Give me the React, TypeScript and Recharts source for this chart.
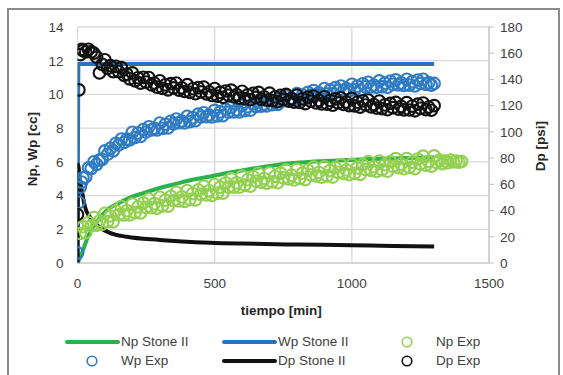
import React from "react";
import { ComposedChart, Line, Scatter, XAxis, YAxis, CartesianGrid, Label } from "recharts";

// model curves [tiempo, valor]
const npStoneII = [
  [0, 0], [10, 0.35], [21, 0.8], [33, 1.35], [45, 1.8], [57, 2.15], [70, 2.45], [90, 2.85],
  [118, 3.27], [150, 3.55], [180, 3.8], [240, 4.15], [300, 4.45], [360, 4.7], [423, 4.95],
  [483, 5.13], [550, 5.35], [620, 5.55], [700, 5.75], [763, 5.9], [850, 6.0], [950, 6.08],
  [1050, 6.15], [1150, 6.2], [1300, 6.27],
];
const wpStoneII = [[0, 0], [3, 11.8], [1300, 11.8]];
const dpStoneII = [
  [0, 0], [2, 75], [8, 64], [15, 56], [27, 43], [45, 35], [70, 29], [118, 23], [180, 20],
  [300, 17.6], [483, 15.5], [600, 14.8], [800, 14.1], [1000, 13.6], [1150, 13], [1300, 12.5],
];

// experimental points [tiempo, valor]
const npExp = [
  [0, 2.2], [10, 1.75], [20, 2.15], [30, 1.8], [40, 2.4], [50, 2.2], [60, 2.7], [70, 2.25],
  [80, 2.5], [90, 2.3], [100, 2.95], [110, 2.45], [120, 2.8], [130, 2.45], [140, 3.1], [150, 2.85],
  [160, 3.35], [170, 2.85], [180, 3.1], [190, 2.85], [200, 3.5], [210, 2.99], [220, 3.33],
  [230, 2.97], [240, 3.56], [250, 3.3], [260, 3.79], [270, 3.28], [280, 3.52], [290, 3.26],
  [300, 3.9], [310, 3.39], [320, 3.73], [330, 3.37], [340, 3.96], [350, 3.7], [360, 4.19],
  [370, 3.68], [380, 3.92], [390, 3.66], [400, 4.3], [410, 3.78], [420, 4.12], [430, 3.75],
  [440, 4.34], [450, 4.07], [460, 4.56], [470, 4.04], [480, 4.28], [490, 4.01], [500, 4.65],
  [510, 4.15], [520, 4.5], [530, 4.15], [540, 4.75], [550, 4.5], [560, 5.0], [570, 4.5],
  [580, 4.75], [590, 4.5], [600, 5.15], [610, 4.62], [620, 4.94], [630, 4.56], [640, 5.13],
  [650, 4.85], [660, 5.32], [670, 4.79], [680, 5.01], [690, 4.73], [700, 5.35], [710, 4.82],
  [720, 5.14], [730, 4.76], [740, 5.33], [750, 5.05], [760, 5.52], [770, 4.99], [780, 5.21],
  [790, 4.93], [800, 5.55], [810, 5.02], [820, 5.33], [830, 4.95], [840, 5.51], [850, 5.23],
  [860, 5.69], [870, 5.16], [880, 5.37], [890, 5.09], [900, 5.7], [910, 5.17], [920, 5.48],
  [930, 5.1], [940, 5.66], [950, 5.38], [960, 5.84], [970, 5.31], [980, 5.52], [990, 5.24],
  [1000, 5.85], [1010, 5.32], [1020, 5.64], [1030, 5.26], [1040, 5.83], [1050, 5.55],
  [1060, 6.02], [1070, 5.49], [1080, 5.71], [1090, 5.43], [1100, 6.05], [1110, 5.52],
  [1120, 5.83], [1130, 5.45], [1140, 6.01], [1150, 5.73], [1160, 6.19], [1170, 5.66],
  [1180, 5.87], [1190, 5.59], [1200, 6.2], [1210, 5.67], [1220, 5.98], [1230, 5.6], [1240, 6.16],
  [1250, 5.88], [1260, 6.34], [1270, 5.81], [1280, 6.02], [1290, 5.74], [1300, 6.35],
  [1310, 5.95], [1320, 6.1], [1330, 5.9], [1340, 6.05], [1350, 5.95], [1360, 6.1], [1370, 6.0],
  [1380, 6.05], [1390, 5.98], [1400, 6.02],
];
const wpExp = [
  [0, 0.6], [5, 3.6], [10, 4.5], [15, 4.8], [20, 5.05], [30, 5.1], [40, 5.65], [50, 5.6],
  [60, 6.0], [70, 5.85], [80, 6.1], [90, 6.15], [100, 6.65], [110, 6.45], [120, 6.8], [130, 6.65],
  [140, 7.1], [150, 7.0], [160, 7.35], [170, 7.15], [180, 7.35], [190, 7.3], [200, 7.75],
  [210, 7.45], [220, 7.71], [230, 7.51], [240, 7.92], [250, 7.77], [260, 8.08], [270, 7.89],
  [280, 7.99], [290, 7.89], [300, 8.3], [310, 7.99], [320, 8.23], [330, 8.02], [340, 8.41],
  [350, 8.25], [360, 8.54], [370, 8.32], [380, 8.42], [390, 8.31], [400, 8.7], [410, 8.39],
  [420, 8.62], [430, 8.44], [440, 8.83], [450, 8.66], [460, 8.91], [470, 8.68], [480, 8.78],
  [490, 8.67], [500, 9.05], [510, 8.73], [520, 8.96], [530, 8.74], [540, 9.12], [550, 8.95],
  [560, 9.23], [570, 8.96], [580, 9.09], [590, 8.97], [600, 9.35], [610, 9.04], [620, 9.27],
  [630, 9.06], [640, 9.44], [650, 9.28], [660, 9.56], [670, 9.3], [680, 9.43], [690, 9.32],
  [700, 9.7], [710, 9.39], [720, 9.62], [730, 9.41], [740, 9.79], [750, 9.63], [760, 9.91],
  [770, 9.65], [780, 9.78], [790, 9.67], [800, 10.05], [810, 9.73], [820, 9.96], [830, 9.74],
  [840, 10.12], [850, 9.95], [860, 10.23], [870, 9.96], [880, 10.09], [890, 9.97], [900, 10.35],
  [910, 10.03], [920, 10.25], [930, 10.03], [940, 10.4], [950, 10.23], [960, 10.5], [970, 10.23],
  [980, 10.35], [990, 10.23], [1000, 10.6], [1010, 10.27], [1020, 10.49], [1030, 10.26],
  [1040, 10.63], [1050, 10.45], [1060, 10.72], [1070, 10.44], [1080, 10.56], [1090, 10.43],
  [1100, 10.8], [1110, 10.46], [1120, 10.67], [1130, 10.43], [1140, 10.79], [1150, 10.6],
  [1160, 10.86], [1170, 10.57], [1180, 10.68], [1190, 10.54], [1200, 10.9], [1210, 10.55],
  [1220, 10.75], [1230, 10.5], [1240, 10.85], [1250, 10.65], [1260, 10.9], [1270, 10.6],
  [1280, 10.7], [1290, 10.55], [1300, 10.65],
];
const dpExp = [
  [0, 37], [5, 132], [10, 159], [15, 163], [20, 162], [30, 161], [40, 163], [50, 161], [60, 160],
  [70, 157], [80, 145], [90, 151.5], [100, 155], [110, 148.5], [120, 150.5], [130, 146],
  [140, 150], [150, 146], [160, 149], [170, 143], [180, 144], [190, 140.5], [200, 145],
  [210, 138.9], [220, 141.3], [230, 137.2], [240, 141.6], [250, 138], [260, 141.4], [270, 135.8],
  [280, 137.2], [290, 134.1], [300, 139], [310, 133.2], [320, 135.9], [330, 132.1], [340, 136.8],
  [350, 133.5], [360, 137.2], [370, 131.9], [380, 133.6], [390, 130.8], [400, 136], [410, 130.2],
  [420, 132.9], [430, 129.1], [440, 133.8], [450, 130.5], [460, 134.2], [470, 128.9],
  [480, 130.6], [490, 127.8], [500, 133], [510, 127.3], [520, 130.1], [530, 126.4], [540, 131.2],
  [550, 128], [560, 131.8], [570, 126.6], [580, 128.4], [590, 125.7], [600, 131], [610, 125.35],
  [620, 128.2], [630, 124.55], [640, 129.4], [650, 126.25], [660, 130.1], [670, 124.95],
  [680, 126.8], [690, 124.15], [700, 129.5], [710, 123.85], [720, 126.7], [730, 123.05],
  [740, 127.9], [750, 124.75], [760, 128.6], [770, 123.45], [780, 125.3], [790, 122.65],
  [800, 128], [810, 122.4], [820, 125.25], [830, 121.6], [840, 126.5], [850, 123.4],
  [860, 127.25], [870, 122.1], [880, 124], [890, 121.4], [900, 126.75], [910, 121.1], [920, 124],
  [930, 120.4], [940, 125.25], [950, 122.1], [960, 126], [970, 120.9], [980, 122.75],
  [990, 120.1], [1000, 125.5], [1010, 119.8], [1020, 122.6], [1030, 118.9], [1040, 123.7],
  [1050, 120.5], [1060, 124.3], [1070, 119.1], [1080, 120.9], [1090, 118.2], [1100, 123.5],
  [1110, 117.8], [1120, 120.6], [1130, 116.9], [1140, 121.7], [1150, 118.5], [1160, 122.5],
  [1170, 117.4], [1180, 119.4], [1190, 116.8], [1200, 122.3], [1210, 116.7], [1220, 119.7],
  [1230, 116.1], [1240, 121.1], [1250, 118], [1260, 122], [1270, 117], [1280, 119], [1290, 116.5],
  [1300, 120],
];

const xTicks = [0, 500, 1000, 1500];
const leftTicks = [0, 2, 4, 6, 8, 10, 12, 14];
const rightTicks = [0, 20, 40, 60, 80, 100, 120, 140, 160, 180];

const toPts = (arr: number[][]) => arr.map(([t, v]) => ({ t, v }));

const FONT = '"Liberation Sans", Arial, sans-serif';
const GREEN = "#2bb24c";
const LIGHT_GREEN = "#92d050";
const BLUE = "#2a72bc";
const BLUE_PT = "#2f7bc4";
const BLACK = "#111111";

const ring = (color: string) => (props: any) => (
  <circle cx={props.cx} cy={props.cy} r={5.8} fill="none" stroke={color} strokeWidth={2.1} />
);

const legendItems = [
  { name: "Np Stone II", kind: "line", color: GREEN },
  { name: "Wp Stone II", kind: "line", color: BLUE },
  { name: "Np Exp", kind: "ring", color: LIGHT_GREEN },
  { name: "Wp Exp", kind: "ring", color: BLUE_PT },
  { name: "Dp Stone II", kind: "line", color: BLACK },
  { name: "Dp Exp", kind: "ring", color: BLACK },
];

function LegendBox() {
  const colX = [66, 223, 400];
  const rowY = [342, 361];
  return (
    <div style={{ position: "absolute", left: 0, top: 0, width: 563, height: 375, pointerEvents: "none" }}>
      {legendItems.map((it, i) => {
        const c = i % 3;
        const r = Math.floor(i / 3);
        const x = colX[c];
        const y = rowY[r];
        const textX = it.kind === "line" ? x + 55 : x + 36;
        return (
          <React.Fragment key={it.name}>
            <svg style={{ position: "absolute", left: x - 2, top: y - 8 }} width={60} height={16}>
              {it.kind === "line" ? (
                <line x1={3} y1={8} x2={54} y2={8} stroke={it.color} strokeWidth={4} strokeLinecap="round" />
              ) : (
                <circle cx={it.name === "Wp Exp" ? 28 : 9} cy={8} r={4.8} fill="none" stroke={it.color} strokeWidth={1.6} />
              )}
            </svg>
            <div
              style={{
                position: "absolute",
                left: it.name === "Wp Exp" ? textX + 19 : textX,
                top: y - 9,
                fontFamily: FONT,
                fontSize: 13.5,
                lineHeight: "18px",
                color: "#404040",
                whiteSpace: "nowrap",
              }}
            >
              {it.name}
            </div>
          </React.Fragment>
        );
      })}
    </div>
  );
}

export default function App() {
  const tick = { fontSize: 13.5, fill: "#404040", fontFamily: FONT };
  return (
    <div style={{ position: "fixed", left: 0, top: 0, width: 563, height: 375, background: "#fff", overflow: "hidden" }}>
      <div
        style={{
          position: "absolute",
          left: 7,
          top: 8,
          width: 553,
          height: 400,
          border: "2px solid #8a8a8a",
          boxSizing: "border-box",
        }}
      />
      <ComposedChart
        width={563}
        height={375}
        margin={{ top: 27, right: 24, left: 20, bottom: 82 }}
        style={{ position: "absolute", left: 0, top: 0 }}
      >
        <CartesianGrid yAxisId="left" stroke="#d9d9d9" strokeWidth={1.3} />
        <XAxis
          dataKey="t"
          type="number"
          domain={[0, 1500]}
          ticks={xTicks}
          tickLine={false}
          tickSize={0}
          tickMargin={15}
          stroke="#c8c8c8"
          tick={tick}
          height={30}
          allowDataOverflow
        >
          <Label
            content={({ viewBox }: any) => (
              <text
                x={viewBox.x + viewBox.width / 2 - 2}
                y={viewBox.y + 52}
                textAnchor="middle"
                fontFamily={FONT}
                fontSize={13.5}
                fontWeight="bold"
                fill="#262626"
              >
                tiempo [min]
              </text>
            )}
          />
        </XAxis>
        <YAxis
          yAxisId="left"
          dataKey="v"
          type="number"
          domain={[0, 14]}
          ticks={leftTicks}
          axisLine={false}
          tickLine={false}
          tickSize={0}
          tickMargin={14}
          tick={tick}
          width={57.5}
        >
          <Label
            content={({ viewBox }: any) => (
              <text
                x={33}
                y={viewBox.y + viewBox.height / 2 + 4}
                transform={`rotate(-90 33 ${viewBox.y + viewBox.height / 2 + 4})`}
                textAnchor="middle"
                dominantBaseline="middle"
                fontFamily={FONT}
                fontSize={13.5}
                fontWeight="bold"
                fill="#262626"
              >
                Np, Wp [cc]
              </text>
            )}
          />
        </YAxis>
        <YAxis
          yAxisId="right"
          orientation="right"
          dataKey="v"
          type="number"
          domain={[0, 180]}
          ticks={rightTicks}
          stroke="#bfbfbf"
          tickSize={5}
          tickMargin={6}
          tick={tick}
          width={50}
        >
          <Label
            content={({ viewBox }: any) => (
              <text
                x={541}
                y={viewBox.y + viewBox.height / 2 + 1}
                transform={`rotate(-90 541 ${viewBox.y + viewBox.height / 2 + 1})`}
                textAnchor="middle"
                dominantBaseline="middle"
                fontFamily={FONT}
                fontSize={13.5}
                fontWeight="bold"
                fill="#262626"
              >
                Dp [psi]
              </text>
            )}
          />
        </YAxis>

        <Line
          yAxisId="left"
          data={toPts(npStoneII)}
          dataKey="v"
          type="monotone"
          stroke={GREEN}
          strokeWidth={4}
          dot={false}
          isAnimationActive={false}
        />
        <Line
          yAxisId="left"
          data={toPts(wpStoneII)}
          dataKey="v"
          type="linear"
          stroke={BLUE}
          strokeWidth={4}
          strokeLinejoin="round"
          dot={false}
          isAnimationActive={false}
        />
        <Scatter
          yAxisId="left"
          data={toPts(npExp)}
          dataKey="v"
          shape={ring(LIGHT_GREEN)}
          isAnimationActive={false}
        />
        <Scatter
          yAxisId="left"
          data={toPts(wpExp)}
          dataKey="v"
          shape={ring(BLUE_PT)}
          isAnimationActive={false}
        />
        <Line
          yAxisId="right"
          data={toPts(dpStoneII)}
          dataKey="v"
          type="monotone"
          stroke={BLACK}
          strokeWidth={4}
          dot={false}
          isAnimationActive={false}
        />
        <Scatter
          yAxisId="right"
          data={toPts(dpExp)}
          dataKey="v"
          shape={ring(BLACK)}
          isAnimationActive={false}
        />
      </ComposedChart>
      <LegendBox />
    </div>
  );
}
